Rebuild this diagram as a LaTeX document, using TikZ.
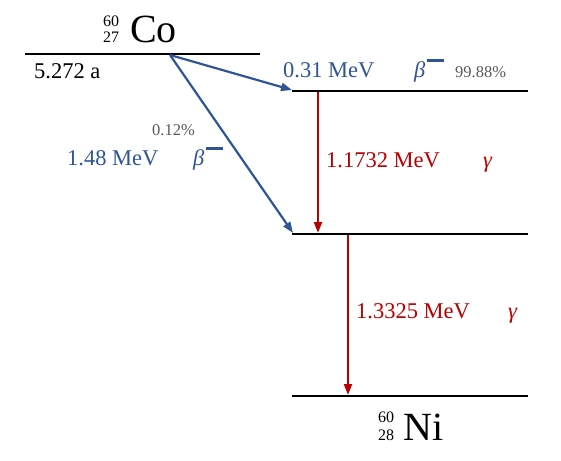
\documentclass[tikz,border=0pt]{standalone}
\usepackage{fontspec}
\setmainfont{Liberation Serif}
\usetikzlibrary{arrows.meta}
\definecolor{decblue}{HTML}{2F5597}
\definecolor{decred}{HTML}{B80000}
\definecolor{pctgray}{HTML}{595959}
\begin{document}
\begin{tikzpicture}[x=1pt,y=-1pt,
  lbl/.style={inner sep=0pt, anchor=base west, font=\fontsize{22.5}{27}\selectfont},
  pct/.style={inner sep=0pt, anchor=base west, text=pctgray, font=\fontsize{16.5}{20}\selectfont},
  nuc/.style={inner sep=0pt, anchor=base west, font=\fontsize{40}{48}\selectfont},
  idx/.style={inner sep=0pt, anchor=base west, font=\fontsize{16}{19}\selectfont},
  level/.style={line width=2.7pt},
  betaarrow/.style={draw=decblue, line width=2.2pt, -{Triangle[length=11pt,width=8pt]}},
  gammaarrow/.style={draw=decred, line width=2.2pt, -{Triangle[length=11pt,width=8pt]}}]
\useasboundingbox (0,0) rectangle (561,460);
% levels
\coordinate (coL) at (25,54);  \coordinate (coR) at (260,54);
\coordinate (l1L) at (292,91); \coordinate (l1R) at (528,91);
\coordinate (l2L) at (292,234); \coordinate (l2R) at (528,234);
\coordinate (niL) at (292,396); \coordinate (niR) at (528,396);
\draw[level] (coL) -- (coR);
\draw[level] (l1L) -- (l1R);
\draw[level] (l2L) -- (l2R);
\draw[level] (niL) -- (niR);
% nuclide labels
\node[nuc] (co) at (130,43) {Co};
\node[idx] (coA) at (103,27) {60};
\node[idx] (coZ) at (103,43) {27};
\node[nuc] (ni) at (403,440) {Ni};
\node[idx] (niA) at (378,422) {60};
\node[idx] (niZ) at (378,440) {28};
\node[lbl] (half) at (34,78) {5.272 a};
% beta arrows
\coordinate (src) at (170,55);
\coordinate (t1) at (292,90);
\coordinate (t2) at (293,233);
\draw[betaarrow] (src) -- (t1);
\draw[betaarrow] (src) -- (t2);
% gamma arrows
\coordinate (g1s) at (318,92); \coordinate (g1e) at (318,233);
\coordinate (g2s) at (348,235); \coordinate (g2e) at (348,395);
\draw[gammaarrow] (g1s) -- (g1e);
\draw[gammaarrow] (g2s) -- (g2e);
% beta labels
\node[lbl, text=decblue] (e1) at (283,77) {0.31 MeV};
\node[lbl, text=decblue] (b1) at (414,77) {\itshape β\hspace{1.5pt}\raisebox{15.5pt}{\rule{17pt}{2.6pt}}};
\node[pct] (p1) at (455,77) {99.88\%};
\node[pct] (p2) at (152,135) {0.12\%};
\node[lbl, text=decblue] (e2) at (67,165) {1.48 MeV};
\node[lbl, text=decblue] (b2) at (193,165) {\itshape β\hspace{1.5pt}\raisebox{15.5pt}{\rule{17pt}{2.6pt}}};
% gamma labels
\node[lbl, text=decred] (e3) at (326,167) {1.1732 MeV};
\node[lbl, text=decred] (y1) at (483,167) {\itshape γ};
\node[lbl, text=decred] (e4) at (356,318) {1.3325 MeV};
\node[lbl, text=decred] (y2) at (508,318) {\itshape γ};
\end{tikzpicture}
\end{document}
